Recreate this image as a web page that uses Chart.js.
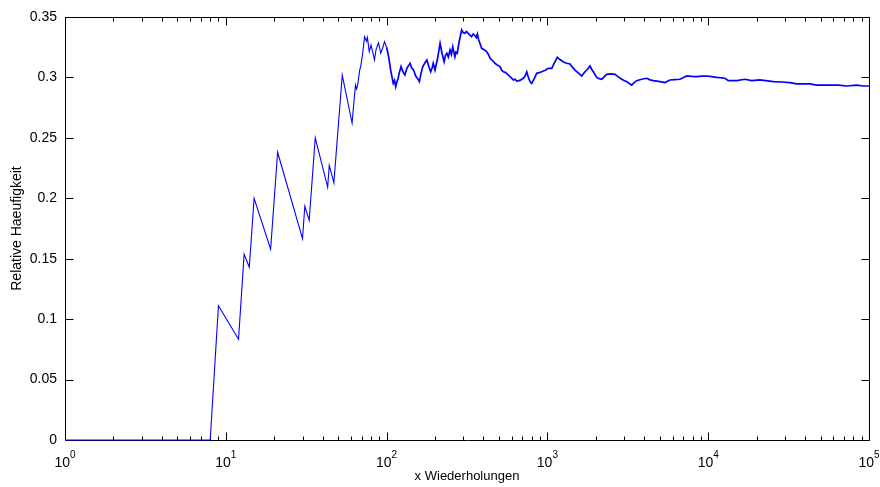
<!DOCTYPE html>
<html>
<head>
<meta charset="utf-8">
<script src="https://cdn.jsdelivr.net/npm/chart.js@4.4.1/dist/chart.umd.min.js"></script>
<style>
html,body{margin:0;padding:0;background:#fff;}
canvas{display:block;}
</style>
</head>
<body>
<canvas id="c" width="880" height="487"></canvas>
<script>
// Number of repetitions (x)
const trials = [1, 8, 9, 12, 13, 14, 15, 19, 21, 30, 31, 33, 36, 43, 44, 47, 53, 61, 64, 65, 66, 68, 69, 71, 73, 75, 76, 78, 80, 82, 84, 86, 89, 92, 95, 97, 100, 103, 106, 110, 112, 114, 116, 118, 120, 123, 126, 130, 134, 140, 143, 147, 152, 156, 160, 164, 168, 173, 178, 183, 188, 192, 195, 200, 207, 215, 221, 228, 232, 237, 242, 248, 253, 258, 262, 266, 270, 275, 283, 293, 300, 307, 314, 322, 330, 338, 346, 355, 361, 367, 374, 381, 390, 404, 419, 430, 440, 455, 472, 490, 507, 520, 532, 551, 571, 592, 614, 630, 644, 675, 708, 725, 744, 758, 772, 785, 799, 828, 858, 890, 922, 968, 1013, 1064, 1105, 1153, 1190, 1227, 1270, 1318, 1382, 1430, 1485, 1560, 1634, 1713, 1780, 1840, 1880, 1930, 2026, 2100, 2176, 2250, 2338, 2480, 2633, 2760, 2898, 3000, 3113, 3230, 3344, 3450, 3593, 3850, 4146, 4350, 4557, 5016, 5386, 5786, 6200, 6677, 7174, 7351, 7900, 8483, 9100, 9788, 10500, 11295, 12722, 13335, 15044, 16940, 18645, 20996, 25404, 28500, 32266, 35515, 42967, 47292, 55000, 64433, 72662, 83834, 92171, 100000];
// Relative frequency
const freq = [0, 0, 0.1111, 0.0833, 0.1538, 0.1429, 0.2, 0.1579, 0.2381, 0.1667, 0.1935, 0.1818, 0.25, 0.2093, 0.2273, 0.2128, 0.3019, 0.2623, 0.2937, 0.2905, 0.2935, 0.306, 0.309, 0.3200, 0.3337, 0.3300, 0.3330, 0.3213, 0.3268, 0.3210, 0.3144, 0.3230, 0.3287, 0.3200, 0.3254, 0.3296, 0.3250, 0.3171, 0.3060, 0.2951, 0.2975, 0.2923, 0.2965, 0.2993, 0.3040, 0.3090, 0.3050, 0.3020, 0.3080, 0.3117, 0.3080, 0.3061, 0.3010, 0.2990, 0.2965, 0.3040, 0.3090, 0.3120, 0.3144, 0.3090, 0.3047, 0.3080, 0.3117, 0.3061, 0.3150, 0.3282, 0.3200, 0.3130, 0.3180, 0.3200, 0.3170, 0.3227, 0.3190, 0.3254, 0.3210, 0.3171, 0.3210, 0.3200, 0.3300, 0.3392, 0.3370, 0.3365, 0.3380, 0.3365, 0.3350, 0.3337, 0.3360, 0.3345, 0.3330, 0.3359, 0.3310, 0.3280, 0.3241, 0.3230, 0.3213, 0.3190, 0.3158, 0.3140, 0.3117, 0.3100, 0.3090, 0.3060, 0.3047, 0.3040, 0.3020, 0.3000, 0.2979, 0.2985, 0.2970, 0.2975, 0.2993, 0.3010, 0.3047, 0.3010, 0.2979, 0.2960, 0.2951, 0.2990, 0.3034, 0.3040, 0.3047, 0.3060, 0.3075, 0.3075, 0.3120, 0.3166, 0.3150, 0.3138, 0.3125, 0.3117, 0.3111, 0.3085, 0.3061, 0.3035, 0.3012, 0.3047, 0.3070, 0.3095, 0.3070, 0.3047, 0.3000, 0.2990, 0.2985, 0.3005, 0.3026, 0.3030, 0.3026, 0.3005, 0.2985, 0.2975, 0.2965, 0.2950, 0.2937, 0.2955, 0.2973, 0.2985, 0.2993, 0.2980, 0.2973, 0.2965, 0.2957, 0.2979, 0.2982, 0.2985, 0.3006, 0.3012, 0.3008, 0.3006, 0.3010, 0.3012, 0.3006, 0.3000, 0.2993, 0.2973, 0.2973, 0.2985, 0.2973, 0.2979, 0.2965, 0.2962, 0.2957, 0.2946, 0.2946, 0.2937, 0.2937, 0.2937, 0.2929, 0.2937, 0.2929, 0.2929];
// Axis tick values
const xTickExponents = [0, 1, 2, 3, 4, 5];
const yTicks = [0, 0.05, 0.1, 0.15, 0.2, 0.25, 0.3, 0.35];
const xTitle = 'x Wiederholungen';
const yTitle = 'Relative Haeufigkeit';

const FONT = '"Liberation Sans", Arial, Helvetica, sans-serif';
const points = trials.map((n, i) => ({x: n, y: freq[i]}));

const boxPlugin = {
  id: 'boxTicks',
  beforeDatasetsDraw(chart) {
    const {ctx, chartArea: a, scales: {x, y}} = chart;
    ctx.save();
    ctx.strokeStyle = '#000';
    ctx.lineWidth = 1;
    const L = Math.round(a.left) + 0.5, R = Math.round(a.right) + 0.5;
    const T = Math.round(a.top) + 0.5, B = Math.round(a.bottom) + 0.5;
    ctx.beginPath();
    ctx.rect(L, T, R - L, B - T);
    ctx.stroke();
    ctx.beginPath();
    xTickExponents.forEach((e, idx) => {
      const base = Math.pow(10, e);
      const px = Math.round(x.getPixelForValue(base)) + 0.5;
      ctx.moveTo(px, B); ctx.lineTo(px, B - 8);
      ctx.moveTo(px, T); ctx.lineTo(px, T + 8);
      if (idx < xTickExponents.length - 1) {
        for (let m = 2; m <= 9; m++) {
          const mp = Math.round(x.getPixelForValue(m * base)) + 0.5;
          ctx.moveTo(mp, B); ctx.lineTo(mp, B - 4);
          ctx.moveTo(mp, T); ctx.lineTo(mp, T + 4);
        }
      }
    });
    yTicks.forEach(v => {
      const py = Math.round(y.getPixelForValue(v)) + 0.5;
      ctx.moveTo(L, py); ctx.lineTo(L + 8, py);
      ctx.moveTo(R, py); ctx.lineTo(R - 8, py);
    });
    ctx.stroke();
    ctx.restore();
  },
  afterDraw(chart) {
    const {ctx, chartArea: a, scales: {x}} = chart;
    ctx.save();
    ctx.fillStyle = '#000';
    ctx.textBaseline = 'middle';
    xTickExponents.forEach(e => {
      const px = x.getPixelForValue(Math.pow(10, e));
      ctx.font = '14px ' + FONT;
      const wb = ctx.measureText('10').width;
      ctx.font = '10px ' + FONT;
      const we = ctx.measureText(String(e)).width;
      const start = px - (wb + we) / 2;
      ctx.textAlign = 'left';
      ctx.font = '14px ' + FONT;
      ctx.fillText('10', start, a.bottom + 23);
      ctx.font = '10px ' + FONT;
      ctx.fillText(String(e), start + wb, a.bottom + 15);
    });
    ctx.restore();
  }
};

new Chart(document.getElementById('c'), {
  type: 'line',
  data: {
    datasets: [{
      data: points,
      borderColor: '#0000ff',
      borderWidth: 1,
      pointRadius: 0,
      tension: 0,
      fill: false,
      clip: 3,
      segment: {
        borderWidth: ctx => (ctx.p0.parsed.x >= 100 ? 1.7 : 1.1)
      }
    }]
  },
  options: {
    responsive: false,
    animation: false,
    devicePixelRatio: 1,
    layout: {padding: {top: 17, right: 11, left: 0, bottom: 0}},
    plugins: {legend: {display: false}, tooltip: {enabled: false}},
    scales: {
      x: {
        type: 'logarithmic',
        min: 1,
        max: 100000,
        grid: {display: false, drawTicks: false},
        border: {display: false},
        ticks: {display: false},
        title: {display: true, text: xTitle, color: '#000', font: {family: FONT, size: 13}, padding: {top: 0, bottom: 3}},
        afterFit(s) { s.height = 47; }
      },
      y: {
        type: 'linear',
        min: 0,
        max: 0.35,
        afterBuildTicks(s) { s.ticks = yTicks.map(v => ({value: v})); },
        grid: {display: false, drawTicks: false},
        border: {display: false},
        ticks: {
          color: '#000',
          font: {family: FONT, size: 14},
          padding: 8,
          callback: v => String(parseFloat(Number(v).toFixed(2)))
        },
        title: {display: true, text: yTitle, color: '#000', font: {family: FONT, size: 14}, padding: {top: 9, bottom: 0}},
        afterFit(s) { s.width = 65; }
      }
    }
  },
  plugins: [boxPlugin]
});
</script>
</body>
</html>
